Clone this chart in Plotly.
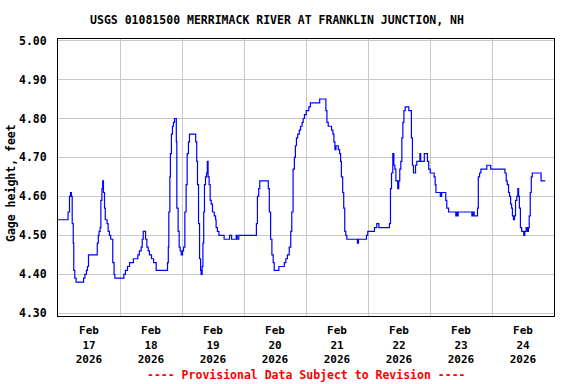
import pandas as pd
import plotly.graph_objects as go

TITLE = "USGS 01081500 MERRIMACK RIVER AT FRANKLIN JUNCTION, NH"
Y_TITLE = "Gage height, feet"
FOOTER = "---- Provisional Data Subject to Revision ----"
START = "2026-02-17 00:00"
END = "2026-02-25 00:00"

# hours since Feb 17 00:00 at which the gage reading changes
hours = [
    0, 3.9, 4.45, 4.84, 5.2, 5.5, 5.9, 6.1, 6.5, 7.0,
    9.9, 10.4, 11.0, 11.4, 11.8, 15.2, 15.6, 15.9, 16.3, 16.6,
    17.0, 17.3, 17.6, 18.0, 18.3, 19.0, 19.4, 19.9, 20.4, 21.2,
    21.7, 22.0,
    25.5, 26.1, 26.9, 27.7, 29.2, 30.9, 31.5, 32.2, 32.6, 33.0,
    33.9, 34.4, 34.9, 35.4, 36.2, 37.0, 38.0, 42.4, 42.7, 42.9,
    43.3, 43.5, 43.9, 44.3, 44.7, 45.1, 45.8, 46.0, 46.5, 46.9,
    47.3, 47.7,
    48.2, 48.6, 49.1, 49.6, 50.0, 50.5, 50.9, 53.3, 53.7, 54.0,
    54.4, 54.8, 55.2, 55.4, 55.8, 56.1, 56.4, 56.7, 57.1, 57.5,
    57.8, 58.1, 58.5, 58.9, 59.3, 59.8, 60.5, 61.0, 61.2, 61.7,
    62.3, 64.3, 66.4, 67.2, 69.0, 69.4, 70.0,
    76.8, 77.2, 77.7, 78.1, 81.4, 81.8, 82.3, 82.8, 83.3, 83.7,
    85.5, 87.6, 88.2, 88.8, 89.5, 90.1, 90.5, 91.0, 91.5, 91.9,
    92.3, 92.8, 93.4, 93.9, 94.5, 94.9, 95.4, 96.1, 97.1, 97.7,
    101.3, 103.7, 104.1, 104.6, 105.9, 106.4, 106.8, 107.2, 107.6, 108.5,
    109.0, 109.4, 109.7, 110.2, 110.6, 111.0, 111.4, 111.8, 115.9, 116.3,
    119.4, 119.9,
    122.5, 123.4, 124.2, 128.3, 128.7, 129.1, 129.6, 130.0, 130.4, 130.8,
    131.5, 131.9, 132.3, 132.7, 133.1, 133.5, 133.9, 134.4, 135.8, 136.8,
    137.2, 137.6, 138.4, 138.9, 140.1, 140.4, 141.8, 143.0,
    143.5, 144.1, 145.6, 146.0, 146.3, 148.0, 148.5, 150.1, 150.5, 151.2,
    154.0, 154.3, 154.6, 154.9, 160.2, 160.6, 161.1, 162.4, 162.7, 163.2,
    163.7, 166.0, 167.5,
    173.0, 173.5, 173.9, 174.4, 174.8, 175.2, 175.6, 175.9, 176.3, 176.7,
    177.1, 177.6, 178.0, 178.3, 178.6, 179.0, 179.5, 180.3, 180.7, 181.2,
    181.7, 182.1, 182.4, 182.8, 183.2, 183.6, 187.0, 188.6,
]

gage_ft = [
    4.54, 4.56, 4.60, 4.61, 4.60, 4.53, 4.48, 4.41, 4.39, 4.38,
    4.39, 4.40, 4.41, 4.42, 4.45, 4.48, 4.50, 4.51, 4.52, 4.59,
    4.62, 4.64, 4.61, 4.57, 4.54, 4.53, 4.51, 4.50, 4.49, 4.43,
    4.40, 4.39,
    4.40, 4.41, 4.42, 4.43, 4.44, 4.45, 4.46, 4.47, 4.49, 4.51,
    4.49, 4.47, 4.46, 4.45, 4.44, 4.43, 4.41, 4.43, 4.47, 4.56,
    4.65, 4.71, 4.76, 4.78, 4.79, 4.80, 4.74, 4.57, 4.51, 4.47,
    4.46, 4.45,
    4.46, 4.47, 4.56, 4.63, 4.71, 4.74, 4.76, 4.74, 4.69, 4.63,
    4.53, 4.44, 4.41, 4.40, 4.42, 4.48, 4.56, 4.63, 4.65, 4.66,
    4.69, 4.65, 4.63, 4.59, 4.58, 4.56, 4.55, 4.54, 4.52, 4.51,
    4.50, 4.49, 4.50, 4.49, 4.50, 4.49, 4.50,
    4.53, 4.60, 4.62, 4.64, 4.62, 4.56, 4.49, 4.45, 4.43, 4.41,
    4.42, 4.43, 4.44, 4.45, 4.47, 4.51, 4.56, 4.67, 4.70, 4.73,
    4.75, 4.76, 4.77, 4.78, 4.79, 4.80, 4.81, 4.82, 4.83, 4.84,
    4.85, 4.82, 4.79, 4.78, 4.77, 4.76, 4.74, 4.72, 4.73, 4.72,
    4.71, 4.69, 4.65, 4.61, 4.57, 4.51, 4.50, 4.49, 4.48, 4.49,
    4.50, 4.51,
    4.52, 4.53, 4.52, 4.53, 4.62, 4.66, 4.71, 4.68, 4.67, 4.64,
    4.62, 4.64, 4.67, 4.69, 4.75, 4.79, 4.82, 4.83, 4.82, 4.75,
    4.68, 4.66, 4.68, 4.69, 4.71, 4.69, 4.71, 4.69,
    4.67, 4.66, 4.65, 4.63, 4.61, 4.60, 4.61, 4.59, 4.57, 4.56,
    4.55, 4.56, 4.55, 4.56, 4.55, 4.56, 4.55, 4.57, 4.65, 4.66,
    4.67, 4.68, 4.67,
    4.66, 4.64, 4.63, 4.61, 4.60, 4.58, 4.57, 4.55, 4.54, 4.55,
    4.59, 4.60, 4.62, 4.60, 4.57, 4.52, 4.51, 4.50, 4.51, 4.52,
    4.51, 4.52, 4.55, 4.61, 4.65, 4.66, 4.64, 4.64,
]
assert len(hours) == len(gage_ft)

days = [17, 18, 19, 20, 21, 22, 23, 24]
month_label = "Feb"
year_label = "2026"
y_ticks = [4.30, 4.40, 4.50, 4.60, 4.70, 4.80, 4.90, 5.00]
y_range = [4.293, 5.004]

times = pd.Timestamp(START) + pd.to_timedelta(hours, unit="h")
noons = [pd.Timestamp(f"2026-02-{d:02d} 12:00") for d in days]
midnights = [pd.Timestamp(f"2026-02-{d:02d} 00:00") for d in days[1:]]
x_ticktext = [f"{month_label}<br>{d}<br>{year_label}" for d in days]

FONT = "DejaVu Sans Mono"
FS = 11.5
XFS = 11
GRID = "#c8c8c8"

fig = go.Figure()
fig.add_trace(go.Scatter(
    x=times, y=gage_ft, mode="lines", line=dict(color="#0000ff", width=1.2, shape="hv"),
    showlegend=False, hoverinfo="skip",
))

fig.update_layout(
    width=576, height=384,
    margin=dict(l=58, r=22, t=39, b=68),
    paper_bgcolor="white", plot_bgcolor="white",
    title=dict(text=TITLE, x=277 / 576, xanchor="center", y=1 - 19.5 / 384, yanchor="middle",
               font=dict(family=FONT, size=FS, color="black", weight="bold")),
    xaxis=dict(type="date", range=[START, END], tickmode="array", tickvals=noons,
               ticktext=x_ticktext, ticks="", ticklabelstandoff=4,
               tickfont=dict(family=FONT, size=XFS, color="black", weight="bold"),
               showgrid=False, zeroline=False, fixedrange=True,
               showline=True, linecolor="black", linewidth=1, mirror=True,
               minor=dict(tickmode="array", tickvals=midnights, showgrid=True,
                          gridcolor=GRID, gridwidth=1, ticks="")),
    yaxis=dict(range=y_range, tickmode="array", tickvals=y_ticks,
               ticktext=[f"{v:.2f}" for v in y_ticks], ticks="", ticklabelstandoff=8,
               showgrid=True, gridcolor=GRID, gridwidth=1, zeroline=False,
               showline=True, linecolor="black", linewidth=1, mirror=True, fixedrange=True,
               tickfont=dict(family=FONT, size=FS, color="black", weight="bold")),
    annotations=[
        dict(text=Y_TITLE, xref="paper", yref="paper", x=(11 - 58) / 496, y=(316 - 183) / 277,
             xanchor="center", yanchor="middle", textangle=-90, showarrow=False,
             font=dict(family=FONT, size=FS, color="black", weight="bold")),
        dict(text=FOOTER, xref="paper", yref="paper", x=0.5, y=-(375 - 316) / 277,
             xanchor="center", yanchor="middle", showarrow=False,
             font=dict(family=FONT, size=FS, color="#ff0000", weight="bold")),
    ],
)

fig.write_html("out.html", config={"displayModeBar": False},
               post_script="document.body.style.margin='0';")
